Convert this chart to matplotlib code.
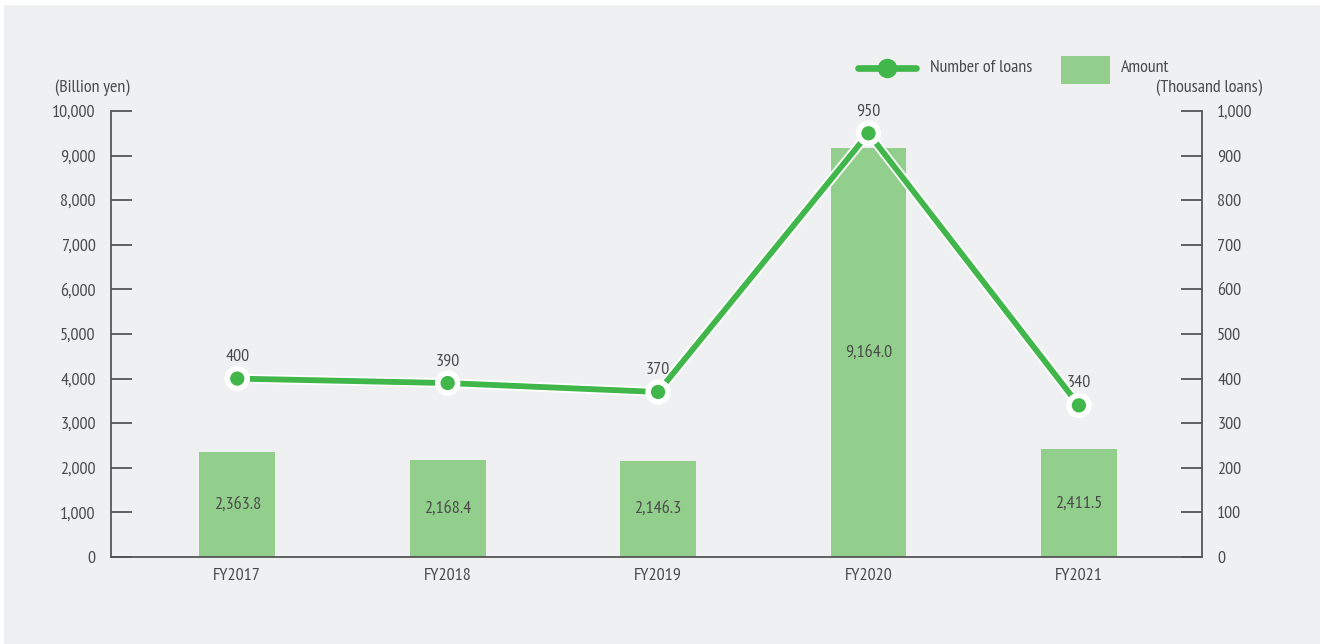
import matplotlib.pyplot as plt
import matplotlib.patheffects as pe
from matplotlib.patches import Rectangle
from matplotlib.lines import Line2D

plt.rcParams['font.family'] = ['PT Sans Narrow', 'Roboto Condensed', 'DejaVu Sans']

years = ['FY2017', 'FY2018', 'FY2019', 'FY2020', 'FY2021']
amount = [2363.8, 2168.4, 2146.3, 9164.0, 2411.5]      # billion yen
loans = [400, 390, 370, 950, 340]                        # thousand loans

bar_color = '#93cf8c'
line_color = '#41b64b'
text_color = '#4a4a4a'
axis_color = '#555555'
panel_color = '#eff0f2'
fs = 13

fig = plt.figure(figsize=(13.25, 6.44), dpi=100)
fig.patch.set_facecolor('white')
fig.patches.append(Rectangle((4 / 1325, 0), 1316 / 1325, 639 / 644,
                             transform=fig.transFigure, facecolor=panel_color,
                             edgecolor='none', zorder=-10))

ax = fig.add_axes([111 / 1325, 87 / 644, 1091 / 1325, 446 / 644])
ax.set_facecolor('none')
x = list(range(len(years)))

ax.bar(x, amount, width=0.36, color=bar_color, zorder=2)
for xi, v in zip(x, amount):
    ax.text(xi, v / 2, f'{v:,.1f}', ha='center', va='center',
            fontsize=fs, color=text_color, zorder=3)

ax.set_xlim(-0.6, 4.585)
ax.set_ylim(0, 10000)
ax.set_yticks(range(0, 10001, 1000))
ax.set_yticklabels([f'{v:,}' for v in range(0, 10001, 1000)])
ax.set_xticks(x)
ax.set_xticklabels(years)
ax.tick_params(axis='y', direction='in', length=15, width=1.3, colors=axis_color,
               labelcolor=text_color, labelsize=fs, pad=11)
ax.tick_params(axis='x', length=0, labelcolor=text_color, labelsize=fs, pad=8)
for side in ['top', 'right']:
    ax.spines[side].set_visible(False)
for side in ['left', 'bottom']:
    ax.spines[side].set_color(axis_color)
    ax.spines[side].set_linewidth(1.3)

ax2 = ax.twinx()
ax2.set_ylim(0, 1000)
ax2.set_yticks(range(0, 1001, 100))
ax2.set_yticklabels([f'{v:,}' for v in range(0, 1001, 100)])
ax2.tick_params(axis='y', direction='in', length=15, width=1.3, colors=axis_color,
                labelcolor=text_color, labelsize=fs, pad=11)
for side in ['top', 'left', 'bottom']:
    ax2.spines[side].set_visible(False)
ax2.spines['right'].set_color(axis_color)
ax2.spines['right'].set_linewidth(1.3)

# loans line with a thin white halo
outline = [pe.Stroke(linewidth=6.8, foreground='white'), pe.Normal()]
ax2.plot(x, loans, color=line_color, linewidth=4.2, marker='o', markersize=11.5,
         markeredgecolor='white', markeredgewidth=1.2,
         path_effects=outline, zorder=4)
for xi, v in zip(x, loans):
    ax2.annotate(f'{v}', (xi, v), xytext=(0, 10), textcoords='offset points',
                 ha='center', va='bottom', fontsize=fs, color=text_color)

# axis unit captions
fig.text(55 / 1325, 1 - 88 / 644, '(Billion yen)', ha='left', va='center',
         fontsize=fs, color=text_color)
fig.text(1262 / 1325, 1 - 88 / 644, '(Thousand loans)', ha='right', va='center',
         fontsize=fs, color=text_color)

# legend
ly = 1 - 68 / 644
fig.add_artist(Line2D([858 / 1325, 916 / 1325], [ly, ly], color=line_color,
                      linewidth=4.8, solid_capstyle='round',
                      transform=fig.transFigure))
fig.add_artist(Line2D([887 / 1325], [ly], color=line_color, marker='o',
                      markersize=13, linestyle='none',
                      transform=fig.transFigure))
fig.text(930 / 1325, ly, 'Number of loans', ha='left', va='center',
         fontsize=fs, color=text_color)
fig.patches.append(Rectangle((1061 / 1325, 1 - 84 / 644), 49 / 1325, 28 / 644,
                             transform=fig.transFigure, facecolor=bar_color,
                             edgecolor='none'))
fig.text(1121 / 1325, ly, 'Amount', ha='left', va='center',
         fontsize=fs, color=text_color)

fig.savefig('out.png', dpi=100)
